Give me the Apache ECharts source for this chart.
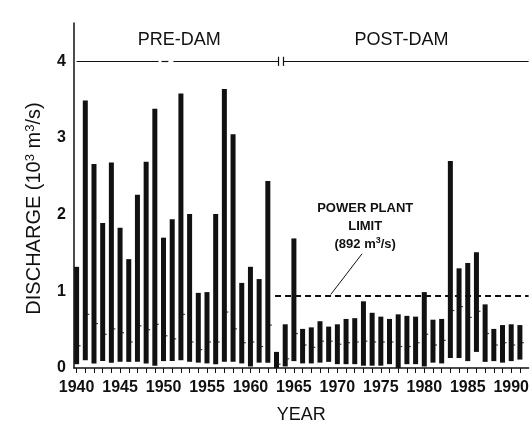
<!DOCTYPE html>
<html>
<head>
<meta charset="utf-8">
<script src="https://cdn.jsdelivr.net/npm/echarts@6/dist/echarts.min.js"></script>
<style>
html, body { margin: 0; padding: 0; background: #fff; }
#main { width: 532px; height: 429px; }
</style>
</head>
<body>
<div id="main"></div>
<script>
var years = [1940, 1941, 1942, 1943, 1944, 1945, 1946, 1947, 1948, 1949,
             1950, 1951, 1952, 1953, 1954, 1955, 1956, 1957, 1958, 1959,
             1960, 1961, 1962, 1963, 1964, 1965, 1966, 1967, 1968, 1969,
             1970, 1971, 1972, 1973, 1974, 1975, 1976, 1977, 1978, 1979,
             1980, 1981, 1982, 1983, 1984, 1985, 1986, 1987, 1988, 1989,
             1990, 1991];
// annual max / min / mean discharge, 10^3 m3/s
var highs = [1.32, 3.49, 2.66, 1.89, 2.68, 1.83, 1.42, 2.26, 2.69, 3.38,
             1.70, 1.94, 3.58, 2.01, 0.98, 0.99, 2.01, 3.64, 3.05, 1.11,
             1.32, 1.16, 2.44, 0.21, 0.57, 1.69, 0.51, 0.53, 0.61, 0.54,
             0.57, 0.64, 0.65, 0.87, 0.72, 0.67, 0.64, 0.70, 0.68, 0.67,
             0.99, 0.63, 0.64, 2.70, 1.30, 1.37, 1.51, 0.83, 0.51, 0.56,
             0.57, 0.56];
var lows = [0.05, 0.10, 0.06, 0.09, 0.07, 0.08, 0.08, 0.08, 0.06, 0.03,
            0.09, 0.09, 0.10, 0.08, 0.07, 0.06, 0.05, 0.08, 0.08, 0.06,
            0.02, 0.07, 0.07, 0.00, 0.02, 0.09, 0.06, 0.06, 0.07, 0.08,
            0.05, 0.05, 0.05, 0.03, 0.03, 0.03, 0.05, 0.00, 0.05, 0.05,
            0.02, 0.07, 0.06, 0.13, 0.13, 0.09, 0.21, 0.08, 0.09, 0.07,
            0.09, 0.11];
var means = [0.29, 0.70, 0.58, 0.44, 0.51, 0.46, 0.34, 0.55, 0.50, 0.57,
             0.42, 0.38, 0.70, 0.34, 0.24, 0.34, 0.34, 0.73, 0.51, 0.33,
             0.34, 0.28, 0.56, 0.05, 0.12, 0.45, 0.30, 0.27, 0.35, 0.35,
             0.31, 0.33, 0.34, 0.35, 0.34, 0.34, 0.34, 0.28, 0.28, 0.33,
             0.44, 0.30, 0.36, 0.75, 0.80, 0.66, 0.74, 0.45, 0.30, 0.33,
             0.30, 0.33];
var yearLabels = [1940, 1945, 1950, 1955, 1960, 1965, 1970, 1975, 1980, 1985, 1990];

var powerLimit = 0.94;
var headerLevel = 4;
var preDamSegments = [[1940, 1949.43], [1949.77, 1950.56], [1951.13, 1963.25]];
var postDamSegment = [1963.76, 1992];
var limitStart = 1962.83;

var ink = '#111';
var font = '"Liberation Sans", Arial, Helvetica, sans-serif';
var narrow = '"Liberation Sans Narrow", "Liberation Sans", Arial, sans-serif';

var rangeData = years.map(function (y, i) { return [y, lows[i], highs[i]]; });
var meanData = years.map(function (y, i) { return [y, means[i]]; });

var solid = { color: ink, width: 1.2, type: 'solid' };
var lines = preDamSegments.map(function (s) {
    return [{ coord: [s[0], headerLevel], lineStyle: solid }, { coord: [s[1], headerLevel] }];
});
lines.push([{ coord: [postDamSegment[0], headerLevel], lineStyle: solid }, { coord: [postDamSegment[1], headerLevel] }]);
lines.push([{ coord: [preDamSegments[2][1], headerLevel - 0.06], lineStyle: solid }, { coord: [preDamSegments[2][1], headerLevel + 0.06] }]);
lines.push([{ coord: [postDamSegment[0], headerLevel - 0.06], lineStyle: solid }, { coord: [postDamSegment[0], headerLevel + 0.06] }]);
lines.push([{ coord: [limitStart, powerLimit], lineStyle: { color: ink, width: 2, type: [6, 4] } }, { coord: [1992, powerLimit] }]);
lines.push([{ coord: [1972.84, 1.49], lineStyle: { color: ink, width: 1, type: 'solid' } }, { coord: [1969.25, powerLimit + 0.02] }]);

var myChart = echarts.init(document.getElementById('main'));
var option = {
    backgroundColor: '#fff',
    animation: false,
    grid: { left: 74, right: -4, top: 23, bottom: 57 },
    xAxis: {
        type: 'value',
        min: 1939.7,
        max: 1992,
        splitLine: { show: false },
        axisLine: { lineStyle: { color: ink, width: 1.5 } },
        axisTick: { customValues: years, length: 5, lineStyle: { color: ink, width: 1 } },
        axisLabel: {
            customValues: yearLabels, margin: 12, color: ink,
            fontFamily: narrow, fontWeight: 'bold', fontSize: 16,
            formatter: function (v) { return String(v); }
        },
        name: 'YEAR',
        nameLocation: 'middle',
        nameGap: 38,
        nameTextStyle: { color: ink, fontFamily: font, fontSize: 18 }
    },
    yAxis: {
        type: 'value',
        min: 0,
        max: 4.5,
        interval: 1,
        splitLine: { show: false },
        axisLine: { show: true, lineStyle: { color: ink, width: 1.5 } },
        axisTick: { show: false },
        axisLabel: {
            margin: 8, color: ink, fontFamily: narrow, fontWeight: 'bold', fontSize: 16,
            formatter: function (v) { return v % 1 === 0 ? String(v) : ''; }
        },
        name: '{t|DISCHARGE (10}{s|3}{t| m}{s|3}{t|/s)}',
        nameLocation: 'middle',
        nameGap: 30,
        nameTextStyle: {
            padding: [0, 26, 0, 0],
            rich: {
                t: { fontFamily: font, fontSize: 20, color: ink },
                s: { fontFamily: font, fontSize: 13, color: ink, verticalAlign: 'top' }
            }
        }
    },
    series: [
        {
            type: 'custom',
            data: rangeData,
            encode: { x: 0, y: [1, 2] },
            renderItem: function (params, api) {
                var top = api.coord([api.value(0), api.value(2)]);
                var bottom = api.coord([api.value(0), api.value(1)]);
                var w = 5;
                return {
                    type: 'rect',
                    shape: { x: top[0] - w / 2, y: top[1], width: w, height: bottom[1] - top[1] },
                    style: { fill: ink }
                };
            }
        },
        {
            type: 'scatter',
            data: meanData,
            symbol: 'rect',
            symbolSize: [2, 1.2],
            symbolOffset: [3, 0],
            itemStyle: { color: ink },
            markLine: {
                silent: true,
                symbol: ['none', 'none'],
                label: { show: false },
                data: lines
            },
            markPoint: {
                silent: true,
                symbolSize: 0,
                label: { show: true, position: 'inside', color: ink },
                data: [
                    { coord: [1951.8, 4.28], label: { formatter: 'PRE-DAM', fontFamily: font, fontSize: 18 } },
                    { coord: [1977.37, 4.28], label: { formatter: 'POST-DAM', fontFamily: font, fontSize: 18 } },
                    {
                        coord: [1973.2, 1.845],
                        label: {
                            formatter: '{b|POWER PLANT}\n{b|LIMIT}\n{b|(892 m}{u|3}{b|/s)}',
                            align: 'center',
                            rich: {
                                b: { fontFamily: narrow, fontWeight: 'bold', fontSize: 13, color: ink, lineHeight: 18, align: 'center' },
                                u: { fontFamily: narrow, fontWeight: 'bold', fontSize: 9, color: ink, verticalAlign: 'top', lineHeight: 18 }
                            }
                        }
                    }
                ]
            }
        }
    ]
};
myChart.setOption(option);
</script>
</body>
</html>
